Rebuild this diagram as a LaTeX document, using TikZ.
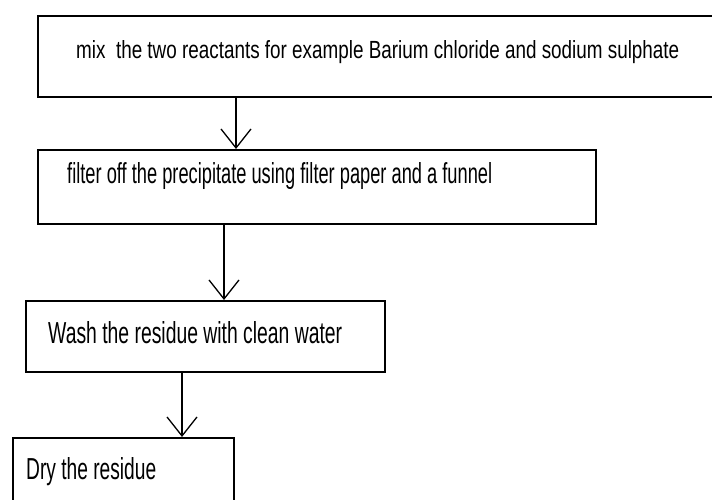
\documentclass[tikz,border=0pt]{standalone}
\usepackage{fontspec}
\usepackage{graphicx}
\setmainfont{Liberation Sans}
\usetikzlibrary{arrows.meta}
\tikzset{
  box/.style={draw=black, line width=1.5pt, rectangle, inner sep=0pt},
  lbl/.style={anchor=base west, inner sep=0pt, text=black},
  flow/.style={draw=black, line width=1.3pt, -{Straight Barb[length=19pt,width=30pt,line width=1.3pt]}}
}
\begin{document}
\begin{tikzpicture}[x=1pt,y=-1pt]
\useasboundingbox[fill=white] (0,0) rectangle (712,499);
% boxes (corner coordinates in pixels)
\node[box, fit/.style={}, minimum width=690pt, minimum height=81pt, anchor=north west] (b1) at (37,15) {};
\node[box, minimum width=558pt, minimum height=74pt, anchor=north west] (b2) at (37,149) {};
\node[box, minimum width=359pt, minimum height=71pt, anchor=north west] (b3) at (25,300) {};
\node[box, minimum width=221pt, minimum height=80pt, anchor=north west] (b4) at (12,437) {};
% texts
\node[lbl] (t1) at (76,58) {\resizebox{603pt}{18pt}{mix\ \ the two reactants for example Barium chloride and sodium sulphate}};
\node[lbl] (t2) at (67,183) {\resizebox{425pt}{21pt}{filter off the precipitate using filter paper and a funnel}};
\node[lbl] (t3) at (48,343) {\resizebox{294pt}{22pt}{Wash the residue with clean water}};
\node[lbl] (t4) at (26,479) {\resizebox{130pt}{22pt}{Dry the residue}};
% arrow columns
\coordinate (c1) at (236,0);
\coordinate (c2) at (224,0);
\coordinate (c3) at (182,0);
\draw[flow] (b1.south -| c1) -- (b2.north -| c1);
\draw[flow] (b2.south -| c2) -- (b3.north -| c2);
\draw[flow] (b3.south -| c3) -- (b4.north -| c3);
\end{tikzpicture}
\end{document}
